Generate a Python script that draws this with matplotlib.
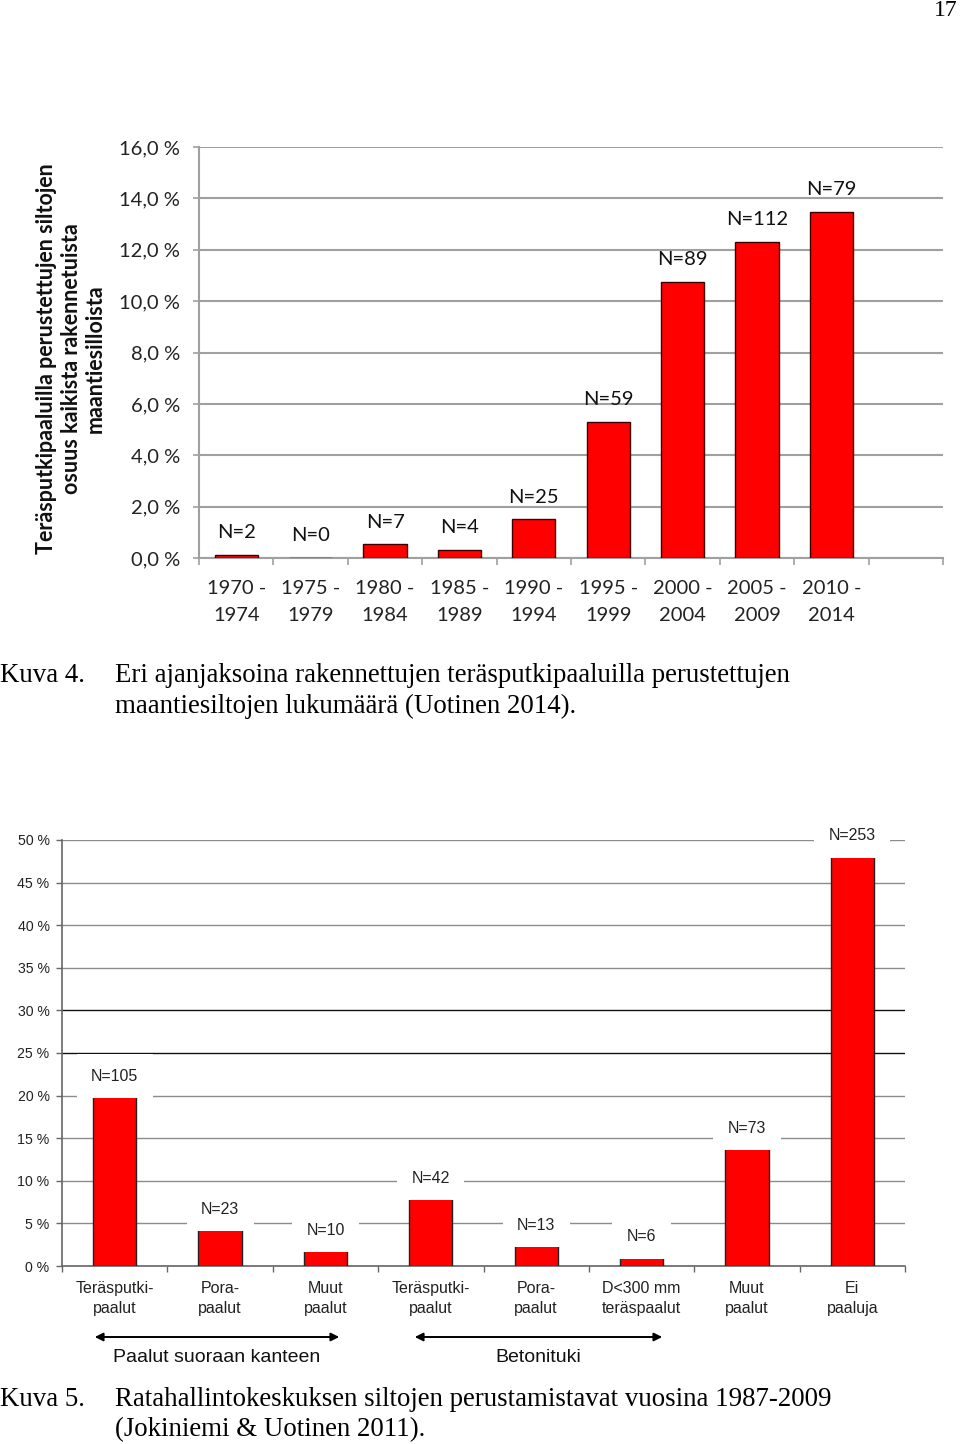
import matplotlib
matplotlib.use("Agg")
import matplotlib.pyplot as plt
from matplotlib.ticker import FixedLocator, FuncFormatter

# Kuva 4: share of road bridges on steel pipe piles by period
periods = ["1970 -\n1974", "1975 -\n1979", "1980 -\n1984", "1985 -\n1989",
           "1990 -\n1994", "1995 -\n1999", "2000 -\n2004", "2005 -\n2009",
           "2010 -\n2014"]
shares = [0.12, 0.0, 0.53, 0.31, 1.5, 5.3, 10.75, 12.3, 13.48]
counts = [2, 0, 7, 4, 25, 59, 89, 112, 79]

# Kuva 5: foundation types of rail bridges 1987-2009
pile_types = ["Teräsputki-\npaalut", "Pora-\npaalut", "Muut\npaalut",
              "Teräsputki-\npaalut", "Pora-\npaalut", "D<300 mm\nteräspaalut",
              "Muut\npaalut", "Ei\npaaluja"]
type_shares = [20.0, 4.38, 1.9, 8.0, 2.48, 1.14, 13.9, 48.2]
type_counts = [105, 23, 10, 42, 13, 6, 73, 253]

W, H = 960, 1444
fig = plt.figure(figsize=(W / 100, H / 100), dpi=100)
fig.patch.set_facecolor("white")


def box(x0, y0, x1, y1):
    return [x0 / W, 1 - y1 / H, (x1 - x0) / W, (y1 - y0) / H]


serif = "Liberation Serif"
cal = "Lato"
arial = "Liberation Sans"
cap_size = 19.4

fig.text(958 / W, 1 - 10 / H, "17", family=serif, fontsize=17,
         ha="right", va="center")

# ---- chart 1 ----
ax1 = fig.add_axes(box(199, 147, 943, 558))
n_slots = len(periods) + 1
x1 = list(range(len(periods)))
ax1.bar(x1, shares, width=0.58, color="#ff0000", edgecolor="#3a0000",
        linewidth=1.0, zorder=3)
ax1.set_xlim(-0.5, n_slots - 0.5)
ax1.set_ylim(0, 16)
ax1.yaxis.set_major_locator(FixedLocator(range(0, 17, 2)))
ax1.yaxis.set_major_formatter(FuncFormatter(lambda v, p: f"{v:.1f} %".replace(".", ",")))
ax1.xaxis.set_major_locator(FixedLocator([i - 0.5 for i in range(n_slots + 1)]))
ax1.xaxis.set_major_formatter(FuncFormatter(lambda v, p: ""))
ax1.xaxis.set_minor_locator(FixedLocator(x1))
ax1.set_xticklabels(periods, minor=True)
ax1.grid(axis="y", color="#a0a0a0", linewidth=1.5, zorder=0)
ax1.set_axisbelow(True)
for s in ["top", "right"]:
    ax1.spines[s].set_visible(False)
for s in ["left", "bottom"]:
    ax1.spines[s].set_color("#a0a0a0")
    ax1.spines[s].set_linewidth(1.5)
ax1.tick_params(axis="y", length=4.5, width=1.2, color="#a0a0a0", pad=9,
                labelsize=14.5)
ax1.tick_params(axis="x", which="major", length=5, width=1.2, color="#a0a0a0")
ax1.tick_params(axis="x", which="minor", length=0, pad=16, labelsize=14.5)
for lab in ax1.get_yticklabels() + ax1.get_xticklabels(minor=True):
    lab.set_family(cal)
    lab.set_color("#222222")
for lab in ax1.get_xticklabels(minor=True):
    lab.set_linespacing(1.68)
for xi, v, n in zip(x1, shares, counts):
    ax1.annotate(f"N={n}", (xi, v), xytext=(0, 16), textcoords="offset points",
                 ha="center", va="center", family=cal, fontsize=14.5,
                 color="#111111")

fig.text(71 / W, 1 - 359 / H,
         "Teräsputkipaaluilla perustettujen siltojen\nosuus kaikista rakennetuista\nmaantiesilloista",
         rotation=90, ha="center", va="center", multialignment="center",
         family=cal, fontweight="bold", fontsize=15.5, linespacing=1.2,
         color="#111111")

fig.text(0, 1 - 675 / H, "Kuva 4.", family=serif, fontsize=cap_size, va="center")
fig.text(115 / W, 1 - 675 / H,
         "Eri ajanjaksoina rakennettujen teräsputkipaaluilla perustettujen",
         family=serif, fontsize=cap_size, va="center")
fig.text(115 / W, 1 - 706 / H, "maantiesiltojen lukumäärä (Uotinen 2014).",
         family=serif, fontsize=cap_size, va="center")

# ---- chart 2 ----
ax2 = fig.add_axes(box(62, 840, 905, 1266))
x2 = list(range(len(pile_types)))
ax2.bar(x2, type_shares, width=0.41, color="#ff0000", edgecolor="#222222",
        linewidth=1.0, zorder=3)
ax2.set_xlim(-0.5, len(pile_types) - 0.5)
ax2.set_ylim(0, 50)
yt = list(range(0, 51, 5))
ax2.yaxis.set_major_locator(FixedLocator(yt))
ax2.yaxis.set_major_formatter(FuncFormatter(lambda v, p: f"{int(v)} %"))
ax2.xaxis.set_major_locator(FixedLocator([i - 0.5 for i in range(len(pile_types) + 1)]))
ax2.xaxis.set_major_formatter(FuncFormatter(lambda v, p: ""))
ax2.xaxis.set_minor_locator(FixedLocator(x2))
ax2.set_xticklabels(pile_types, minor=True)
ax2.grid(axis="y", color="#8c8c8c", linewidth=1.0, zorder=0)
ax2.set_axisbelow(True)
for v, gl in zip(yt, ax2.get_ygridlines()):
    if v in (25, 30):
        gl.set_color("#111111")
for s in ["top", "right"]:
    ax2.spines[s].set_visible(False)
for s in ["left", "bottom"]:
    ax2.spines[s].set_color("#666666")
    ax2.spines[s].set_linewidth(1.2)
ax2.tick_params(axis="y", length=4, width=1, color="#666666", pad=5,
                labelsize=10.2)
ax2.tick_params(axis="x", which="major", length=4, width=1, color="#666666")
ax2.tick_params(axis="x", which="minor", length=0, pad=11, labelsize=11.5)
for lab in ax2.get_yticklabels() + ax2.get_xticklabels(minor=True):
    lab.set_family(arial)
    lab.set_color("#222222")
for lab in ax2.get_xticklabels(minor=True):
    lab.set_linespacing(1.4)
for xi, v, n in zip(x2, type_shares, type_counts):
    ax2.annotate(f"N={n}", (xi, v), xytext=(0, 14), textcoords="offset points",
                 ha="center", va="center", family=arial, fontsize=11.5,
                 color="#222222",
                 bbox=dict(boxstyle="square,pad=0.9", fc="white", ec="none"))

# group arrows
groups = [("Paalut suoraan kanteen", 92, 342), ("Betonituki", 412, 665)]
for name, xa, xb in groups:
    fig.patches.append(matplotlib.patches.FancyArrowPatch(
        (xa / W, 1 - 1337 / H), (xb / W, 1 - 1337 / H),
        transform=fig.transFigure, arrowstyle="<|-|>", mutation_scale=12,
        color="black", linewidth=1.4))
    fig.text((xa + xb) / 2 / W, 1 - 1358 / H, name, family=arial,
             fontsize=14, ha="center", va="center", color="#111111")

fig.text(0, 1 - 1399 / H, "Kuva 5.", family=serif, fontsize=cap_size, va="center")
fig.text(115 / W, 1 - 1399 / H,
         "Ratahallintokeskuksen siltojen perustamistavat vuosina 1987-2009",
         family=serif, fontsize=cap_size, va="center")
fig.text(115 / W, 1 - 1430 / H, "(Jokiniemi & Uotinen 2011).",
         family=serif, fontsize=cap_size, va="center")

fig.savefig("out.png", dpi=100, facecolor="white")
